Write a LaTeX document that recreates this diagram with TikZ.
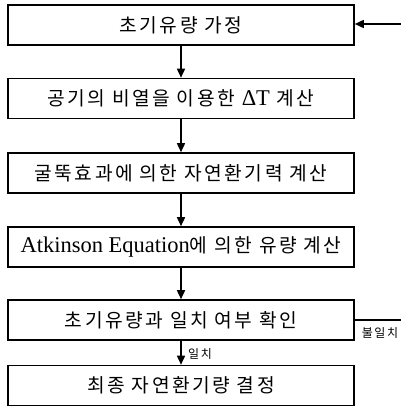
\documentclass[tikz,border=0pt]{standalone}
\usepackage{fontspec}
\setmainfont{Liberation Serif}
\newfontfamily\kr{Noto Sans CJK KR}[Scale=1.2, LetterSpace=13]
\newcommand{\lat}[1]{{\rmfamily\fontsize{22.5}{24}\selectfont #1}}
\usetikzlibrary{arrows.meta}
\tikzset{
  stepbox/.style={draw, line width=1.6pt, minimum width=346pt, minimum height=40pt, inner sep=0pt, font=\fontsize{16}{18}\selectfont},
  flow/.style={line width=1.6pt, -{Triangle[length=9pt,width=8pt]}},
  plain/.style={line width=1.6pt},
  small/.style={font=\kr\fontsize{10}{11}\selectfont, inner sep=0pt}
}
\begin{document}
\begin{tikzpicture}[x=1pt,y=-1pt]
\useasboundingbox (0,0) rectangle (401,420);
\node[stepbox] (b1) at (181,25) {\kr 초기유량 가정};
\node[stepbox] (b2) at (181,98.5) {\kr 공기의 비열을 이용한 \lat{ΔT} 계산};
\node[stepbox] (b3) at (181,173) {\kr 굴뚝효과에 의한 자연환기력 계산};
\node[stepbox] (b4) at (181,247) {\lat{Atkinson Equation}{\kr 에 의한 유량 계산}};
\node[stepbox] (b5) at (181,320) {\kr 초기유량과 일치 여부 확인};
\node[stepbox] (b6) at (181,385.5) {\kr 최종 자연환기량 결정};
\coordinate (r5) at (401,320);
\coordinate (r1) at (401,24);
\draw[flow] (b1) -- (b2);
\draw[flow] (b2) -- (b3);
\draw[flow] (b3) -- (b4);
\draw[flow] (b4) -- (b5);
\draw[flow] (b5) -- (b6);
\draw[plain] (b5.east) -- (r5);
\draw[flow] (r1) -- (b1.east |- r1);
\node[small] (l1) at (200,354) {일치};
\node[small] (l2) at (380,333) {불일치};
\end{tikzpicture}
\end{document}
